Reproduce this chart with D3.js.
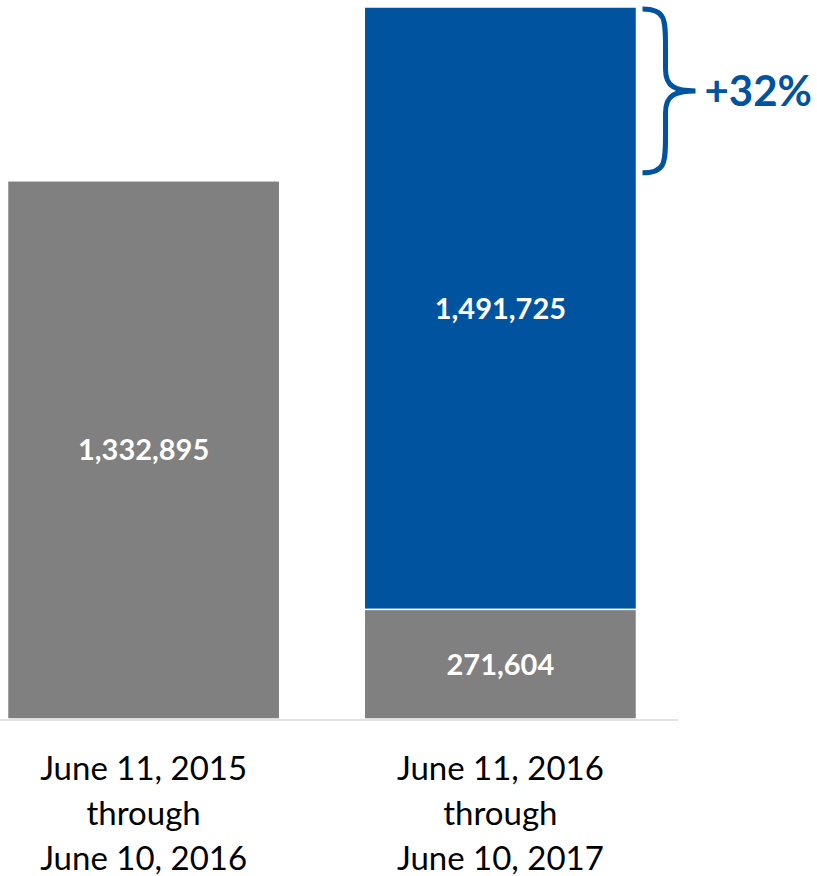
<!DOCTYPE html>
<html><head><meta charset="utf-8">
<script src="https://cdn.jsdelivr.net/npm/d3@7"></script>
<style>body{margin:0;background:#fff}svg{display:block}</style>
</head><body>
<svg id="c" width="817" height="876"></svg>
<script>
const categories = ["June 11, 2015|through|June 10, 2016", "June 11, 2016|through|June 10, 2017"];
const baseValues = [1332895, 271604];
const growthValues = [0, 1491725];
const changeLabel = "+32%";

const GRAY = "#808080", BLUE = "#00539F";
const FONT = "Lato, 'Open Sans', sans-serif";

const rows = categories.map((c, i) => ({cat: c, base: baseValues[i], growth: growthValues[i]}));
const stack = d3.stack().keys(["base", "growth"])(rows);
const total = d3.max(rows, d => d.base + d.growth);

const svg = d3.select("#c");
const x = d3.scaleBand().domain(categories).range([7.5, 636.5]).paddingInner(0.237).paddingOuter(0);
const y = d3.scaleLinear().domain([0, total]).range([719, 7]);
const color = {base: GRAY, growth: BLUE};

const g = svg.append("g");
stack.forEach(s => {
  g.selectAll(null).data(s.filter(d => d[1] - d[0] > 0)).join("rect")
    .attr("x", d => x(d.data.cat))
    .attr("width", x.bandwidth())
    .attr("y", d => y(d[1]))
    .attr("height", d => y(d[0]) - y(d[1]))
    .attr("fill", color[s.key])
    .attr("stroke", "#fff").attr("stroke-width", 1.5);
  g.selectAll(null).data(s.filter(d => d[1] - d[0] > 0)).join("text")
    .attr("x", d => x(d.data.cat) + x.bandwidth() / 2)
    .attr("y", d => (y(d[0]) + y(d[1])) / 2)
    .attr("dy", "0.36em")
    .attr("text-anchor", "middle")
    .attr("fill", "#fff")
    .attr("font-family", FONT).attr("font-weight", 700).attr("font-size", 29)
    .text(d => d3.format(",")(d[1] - d[0]));
});

// baseline axis
const axis = svg.append("g").attr("transform", "translate(0,720)")
  .call(d3.axisBottom(x).tickSize(0).tickFormat(""));
axis.select(".domain").attr("d", "M0,0H678").attr("stroke", "#d9d9d9").attr("stroke-width", 1.5);

// category labels
categories.forEach(c => {
  const t = svg.append("text")
    .attr("text-anchor", "middle")
    .attr("font-family", FONT).attr("font-size", 33).attr("fill", "#000");
  c.split("|").forEach((line, i) => {
    t.append("tspan").attr("x", x(c) + x.bandwidth() / 2).attr("y", 780 + i * 45).text(line);
  });
});

// bracket
const bx = x(categories[1]) + x.bandwidth() + 6;
const yTop = y(total) + 2, yBot = y(baseValues[0]) - 8;
const mid = (yTop + yBot) / 2;
const vx = bx + 23, tipX = bx + 53;
const path = `M${bx},${yTop} C${vx},${yTop} ${vx},${yTop + 10} ${vx},${yTop + 38}
 L${vx},${mid - 22} C${vx},${mid - 4} ${vx + 10},${mid} ${tipX},${mid}
 C${vx + 10},${mid} ${vx},${mid + 4} ${vx},${mid + 22}
 L${vx},${yBot - 38} C${vx},${yBot - 10} ${vx},${yBot} ${bx},${yBot}`;
svg.append("path").attr("d", path).attr("fill", "none").attr("stroke", BLUE).attr("stroke-width", 5);
svg.append("text").attr("x", tipX + 9).attr("y", mid + 15)
  .attr("font-family", FONT).attr("font-weight", 700).attr("font-size", 42).attr("fill", BLUE)
  .text(changeLabel);
</script>
</body></html>
